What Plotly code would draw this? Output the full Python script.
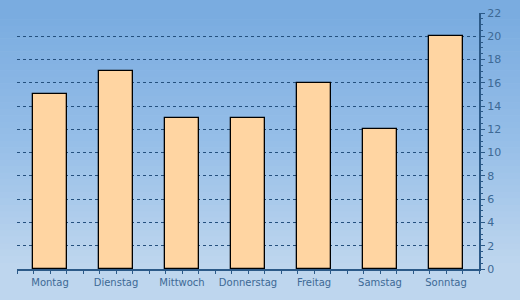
import plotly.graph_objects as go

days = ["Montag", "Dienstag", "Mittwoch", "Donnerstag", "Freitag", "Samstag", "Sonntag"]
values = [15, 17, 13, 13, 16, 12, 20]
y_ticks = list(range(0, 23, 2))

xpos = list(range(len(days)))

fig = go.Figure()
fig.add_trace(go.Bar(
    x=xpos, y=values, width=0.52,
    marker=dict(color="#ffd5a2", line=dict(color="#000000", width=1.3)),
    hoverinfo="skip",
))

# background gradient bands
def lerp(a, b, t):
    return tuple(int(round(a[i] + (b[i] - a[i]) * t)) for i in range(3))

top = (122, 172, 224)
mid = (150, 190, 232)
bot = (190, 214, 238)
n = 40
shapes = []
for i in range(n):
    t = i / (n - 1)
    if t < 0.5:
        c = lerp(top, mid, t / 0.5)
    else:
        c = lerp(mid, bot, (t - 0.5) / 0.5)
    y1 = 1 - i / n
    y0 = 1 - (i + 1) / n
    shapes.append(dict(type="rect", xref="paper", yref="paper", x0=-0.1, x1=1.2,
                       y0=y0 - 0.001 - (0.15 if i == n - 1 else 0), y1=y1 + 0.001 + (0.1 if i == 0 else 0),
                       fillcolor="rgb(%d,%d,%d)" % c, line=dict(width=0), layer="below"))

fig.update_layout(
    width=520, height=300,
    margin=dict(l=17, r=41, t=13, b=31),
    paper_bgcolor="#a9c9ea",
    plot_bgcolor="rgba(0,0,0,0)",
    shapes=shapes,
    showlegend=False,
    bargap=0,
    font=dict(family="DejaVu Sans", size=10, color="#3d6995"),
    xaxis=dict(
        range=[-0.5, 6.5], automargin=False,
        tickvals=xpos, ticktext=days,
        showgrid=False, zeroline=False,
        showline=True, linecolor="#2c5a88", linewidth=2,
        ticks="outside", ticklen=3, tickcolor="#2c5a88", tickwidth=1,
        minor=dict(dtick=0.25, tick0=-0.5, ticks="outside", ticklen=3, tickcolor="#2c5a88"),
        tickfont=dict(size=10, color="#3d6995"),
    ),
    yaxis=dict(
        side="right", automargin=False,
        range=[0, 22],
        tickvals=y_ticks,
        showgrid=True, gridcolor="#24507e", gridwidth=1, griddash="3px,3px",
        zeroline=False,
        showline=True, linecolor="#2c5a88", linewidth=2,
        ticks="outside", ticklen=4, tickcolor="#2c5a88",
        minor=dict(dtick=0.5, ticks="outside", ticklen=2, tickcolor="#2c5a88"),
        tickfont=dict(size=11, color="#3d6995"),
    ),
)

fig.write_html("out.html")
